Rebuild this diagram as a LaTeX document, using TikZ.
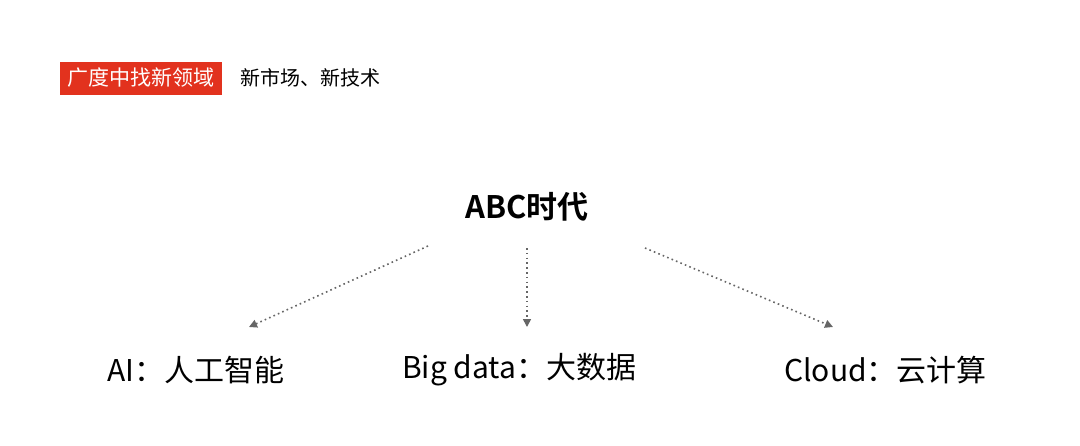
\documentclass[tikz,border=0pt]{standalone}
\usepackage{fontspec}
\setmainfont{Noto Sans CJK SC}
\newfontfamily\cjkbold{Noto Sans CJK SC Bold}
\usetikzlibrary{arrows.meta}
\definecolor{tagred}{HTML}{E2321E}
\definecolor{arr}{HTML}{666666}
\tikzset{
  lab/.style={font=\fontsize{30}{30}\selectfont, text=black, inner sep=0pt, anchor=west},
  conn/.style={draw=arr, line width=1.6pt, dash pattern=on 1.6pt off 3.2pt, -{Triangle[length=8pt,width=8pt]}},
}
\begin{document}
\begin{tikzpicture}[x=1pt,y=-1pt]
\useasboundingbox[fill=white] (0,0) rectangle (1080,445);
\node[fill=tagred, text=white, font=\fontsize{21}{21}\selectfont, minimum width=162pt, minimum height=33pt, inner sep=0pt] (tag) at (141,78) {广度中找新领域};
\node[font=\fontsize{20}{20}\selectfont, inner sep=0pt, anchor=west] (sub) at (240,78) {新市场、新技术};
\node[font=\cjkbold\fontsize{31}{31}\selectfont, inner sep=0pt] (abc) at (527,207) {ABC时代};
\node[lab] (ai) at (107,370) {AI：人工智能};
\node[lab] (big) at (402,370) {Big data：大数据};
\node[lab] (cl) at (784,370) {Cloud：云计算};
\coordinate (a1) at (428,246); \coordinate (a2) at (249,327);
\coordinate (b1) at (527,248); \coordinate (b2) at (527,327);
\coordinate (c1) at (645,248); \coordinate (c2) at (833,327);
\draw[conn] (a1) -- (a2);
\draw[conn] (b1) -- (b2);
\draw[conn] (c1) -- (c2);
\end{tikzpicture}
\end{document}
